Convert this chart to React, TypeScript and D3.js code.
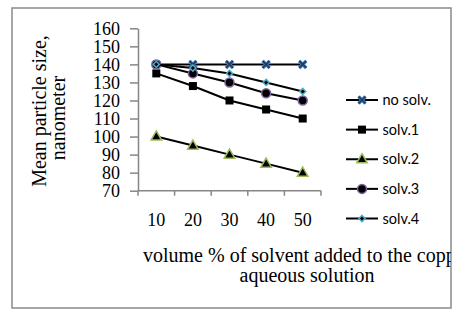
import React, { useRef, useEffect } from "react";
import * as d3 from "d3";

// volume % of solvent (x categories)
const volumes = ["10", "20", "30", "40", "50"];
const yTicks = [70, 80, 90, 100, 110, 120, 130, 140, 150, 160];

// mean particle size per series, nm
const noSolv = [140, 140, 140, 140, 140];
const solv1 = [135, 128, 120, 115, 110];
const solv2 = [100, 95, 90, 85, 80];
const solv3 = [140, 135, 130, 124, 120];
const solv4 = [140, 138, 135, 130, 125];

const seriesNames = ["no solv.", "solv.1", "solv.2", "solv.3", "solv.4"];

function App() {
  const svgRef = useRef(null);
  const width = 466;
  const height = 320;
  const plotLeft = 138;
  const plotRight = 321;
  const plotTop = 28.3;
  const plotBottom = 190.7;

  useEffect(() => {
    const svg = d3.select(svgRef.current);
    svg.selectAll("*").remove();

    const serif = "'Liberation Serif', 'Times New Roman', serif";
    const sans = "Lato, 'Open Sans', sans-serif";

    // clip for the outer frame (title text gets cut at the right edge)
    svg.append("defs").append("clipPath").attr("id", "frameClip")
      .append("rect").attr("x", 12).attr("y", 8).attr("width", 439).attr("height", 300);

    svg.append("rect")
      .attr("x", 12).attr("y", 8).attr("width", 439).attr("height", 300)
      .attr("fill", "white").attr("stroke", "#8a8a8a").attr("stroke-width", 1.5);

    const root = svg.append("g").attr("clip-path", "url(#frameClip)");

    const xScale = d3.scaleBand().domain(volumes).range([plotLeft, plotRight]);
    const xPos = (i) => xScale(volumes[i]) + xScale.bandwidth() / 2;
    const yScale = d3.scaleLinear().domain([70, 160]).range([plotBottom, plotTop]);

    // y axis
    const yAxis = d3.axisLeft(yScale).tickValues(yTicks).tickSize(8).tickPadding(10).tickSizeOuter(0);
    const gy = root.append("g").attr("transform", `translate(${plotLeft},0)`).call(yAxis);
    gy.select(".domain").attr("stroke", "#868686").attr("stroke-width", 1.5);
    gy.selectAll(".tick line").attr("stroke", "#868686").attr("stroke-width", 1.5);
    gy.selectAll(".tick text").attr("font-family", serif).attr("font-size", 18).attr("fill", "black");

    // x axis: ticks on category boundaries
    const gx = root.append("g");
    gx.append("line")
      .attr("x1", plotLeft).attr("x2", plotRight)
      .attr("y1", plotBottom).attr("y2", plotBottom)
      .attr("stroke", "#868686").attr("stroke-width", 1.5);
    const bounds = volumes.map(v => xScale(v)).concat([plotRight]);
    gx.selectAll("line.tk").data(bounds).join("line").attr("class", "tk")
      .attr("x1", d => d).attr("x2", d => d)
      .attr("y1", plotBottom).attr("y2", plotBottom + 5)
      .attr("stroke", "#868686").attr("stroke-width", 1.5);
    gx.selectAll("text").data(volumes).join("text")
      .attr("x", (d, i) => xPos(i)).attr("y", 225.5)
      .attr("text-anchor", "middle")
      .attr("font-family", serif).attr("font-size", 18)
      .text(d => d);

    // axis titles
    root.append("text")
      .attr("transform", "translate(46,111) rotate(-90)")
      .attr("text-anchor", "middle")
      .attr("font-family", serif).attr("font-size", 20)
      .text("Mean particle size,");
    root.append("text")
      .attr("transform", "translate(65,118) rotate(-90)")
      .attr("text-anchor", "middle")
      .attr("font-family", serif).attr("font-size", 20)
      .text("nanometer");

    root.append("text")
      .attr("x", 143).attr("y", 262)
      .attr("font-family", serif).attr("font-size", 20)
      .text("volume % of solvent added to the copper");
    root.append("text")
      .attr("x", 307).attr("y", 282)
      .attr("text-anchor", "middle")
      .attr("font-family", serif).attr("font-size", 20)
      .text("aqueous solution");

    // markers
    function drawMarker(g, k, x, y) {
      if (k === 0) {
        const s = 3.5;
        const path = `M${x - s},${y - s}L${x + s},${y + s}M${x - s},${y + s}L${x + s},${y - s}`;
        g.append("path").attr("d", path).attr("stroke", "#4a7ebb").attr("stroke-width", 3.5);
        g.append("path").attr("d", path).attr("stroke", "#1f3a5f").attr("stroke-width", 1.5);
      } else if (k === 1) {
        g.append("rect").attr("x", x - 4).attr("y", y - 4).attr("width", 8).attr("height", 8).attr("fill", "black");
      } else if (k === 2) {
        g.append("path")
          .attr("d", d3.symbol(d3.symbolTriangle, 48)())
          .attr("transform", `translate(${x},${y + 0.5})`)
          .attr("fill", "black").attr("stroke", "#9bbb59").attr("stroke-width", 1.5);
      } else if (k === 3) {
        g.append("circle").attr("cx", x).attr("cy", y).attr("r", 4.5)
          .attr("fill", "black").attr("stroke", "#8064a2").attr("stroke-width", 1.5);
      } else {
        g.append("path")
          .attr("d", d3.symbol(d3.symbolDiamond2, 24)())
          .attr("transform", `translate(${x},${y})`)
          .attr("fill", "black").attr("stroke", "#4bacc6").attr("stroke-width", 1.5);
      }
    }

    const allSeries = [noSolv, solv1, solv2, solv3, solv4];
    const line = d3.line().x((d, i) => xPos(i)).y(d => yScale(d));

    allSeries.forEach((vals, k) => {
      const g = root.append("g");
      g.append("path").attr("d", line(vals))
        .attr("fill", "none").attr("stroke", "black").attr("stroke-width", 2);
      vals.forEach((v, i) => drawMarker(g, k, xPos(i), yScale(v)));
    });

    // legend
    const legendY = d3.scalePoint().domain(seriesNames).range([100, 218.5]);
    seriesNames.forEach((name, k) => {
      const ly = legendY(name);
      const g = root.append("g");
      g.append("line").attr("x1", 346).attr("x2", 378).attr("y1", ly).attr("y2", ly)
        .attr("stroke", "black").attr("stroke-width", 2);
      drawMarker(g, k, 362, ly);
      g.append("text").attr("x", 382.5).attr("y", ly).attr("dy", "0.35em")
        .attr("font-family", sans).attr("font-size", 14.5).text(name);
    });
  }, []);

  return (
    <svg ref={svgRef} width={width} height={height}
      style={{ position: "absolute", left: 0, top: 0, background: "white" }} />
  );
}

export default App;
